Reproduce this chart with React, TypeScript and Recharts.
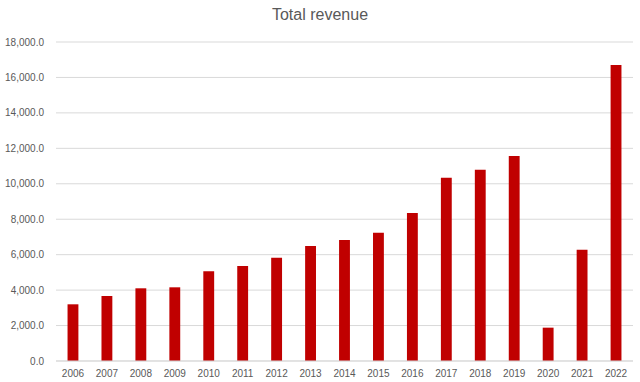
import { Bar, BarChart, CartesianGrid, XAxis, YAxis } from 'recharts'

const YEARS = ['2006', '2007', '2008', '2009', '2010', '2011', '2012', '2013', '2014', '2015', '2016', '2017', '2018', '2019', '2020', '2021', '2022']
const REVENUE = [3199, 3668, 4102, 4158, 5061, 5361, 5829, 6489, 6828, 7241, 8351, 10343, 10796, 11567, 1881, 6282, 16702]
const Y_TICKS = [0, 2000, 4000, 6000, 8000, 10000, 12000, 14000, 16000, 18000]

const data = YEARS.map((year, i) => ({ year, revenue: REVENUE[i] }))

const font = '"Liberation Sans", Arial, sans-serif'

const fmt = (v: number) =>
  v.toLocaleString('en-US', { minimumFractionDigits: 1, maximumFractionDigits: 1 })

export default function App() {
  return (
    <div style={{ position: 'absolute', left: 0, top: 0, width: 640, height: 382, background: '#fff', fontFamily: font }}>
      <div
        style={{
          position: 'absolute',
          top: 6,
          left: 0,
          width: 640,
          textAlign: 'center',
          fontSize: 16,
          color: '#595959',
        }}
      >
        Total revenue
      </div>
      <BarChart
        width={640}
        height={382}
        data={data}
        margin={{ top: 42, right: 7, bottom: 0, left: 0 }}
        barCategoryGap="66%"
      >
        <CartesianGrid vertical={false} stroke="#d9d9d9" />
        <XAxis
          dataKey="year"
          height={21}
          tickLine={false}
          axisLine={{ stroke: '#d9d9d9' }}
          tickSize={4}
          tickMargin={5}
          interval={0}
          tick={{ fill: '#595959', fontSize: 10, fontFamily: font }}
        />
        <YAxis
          width={56}
          domain={[0, 18000]}
          ticks={Y_TICKS}
          tickFormatter={fmt}
          axisLine={false}
          tickLine={false}
          tickSize={0}
          tickMargin={12}
          tick={{ fill: '#595959', fontSize: 10, fontFamily: font }}
        />
        <Bar dataKey="revenue" fill="#c00000" isAnimationActive={false} />
      </BarChart>
    </div>
  )
}
